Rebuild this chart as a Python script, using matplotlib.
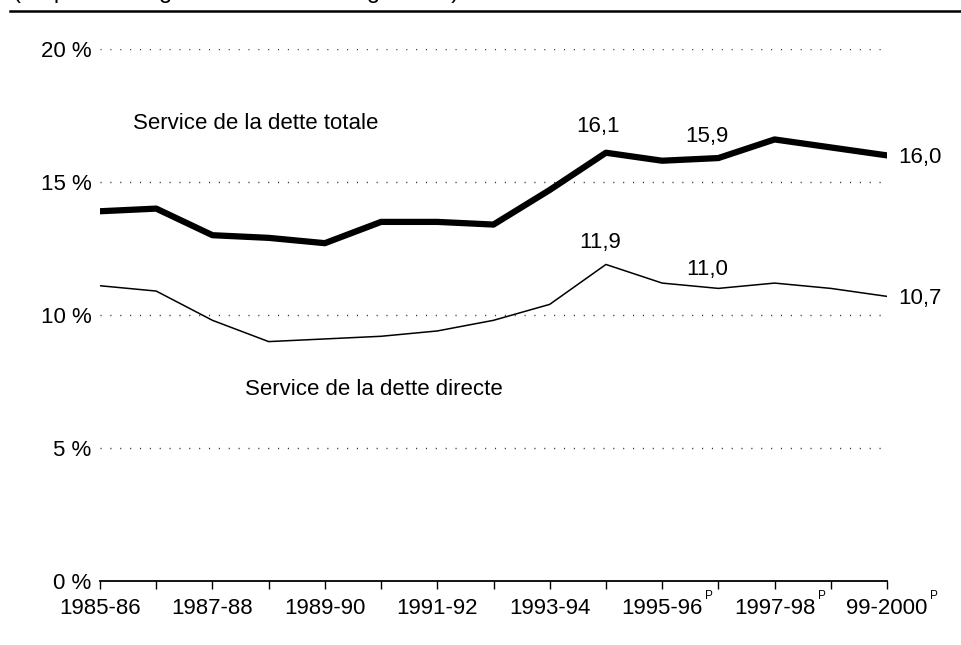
"""Service de la dette : totale et directe, 1985-86 a 1999-2000."""
import matplotlib
matplotlib.use("Agg")
import matplotlib.pyplot as plt
from matplotlib.lines import Line2D

plt.rcParams['font.family'] = ['Liberation Sans', 'DejaVu Sans']

years = ['1985-86', '1986-87', '1987-88', '1988-89', '1989-90', '1990-91',
         '1991-92', '1992-93', '1993-94', '1994-95', '1995-96', '1996-97',
         '1997-98', '1998-99', '99-2000']
prelim = [False] * 10 + [True] * 5
total = [13.9, 14.0, 13.0, 12.9, 12.7, 13.5, 13.5, 13.4, 14.7, 16.1,
         15.8, 15.9, 16.6, 16.3, 16.0]
direct = [11.1, 10.9, 9.8, 9.0, 9.1, 9.2, 9.4, 9.8, 10.4, 11.9,
          11.2, 11.0, 11.2, 11.0, 10.7]
y_ticks = [0, 5, 10, 15, 20]

# labelled points: (index, text, offset in points)
total_labels = [(9, '16,1', (-6, 15)), (11, '15,9', (-8, 11.5)), (14, '16,0', (8, 0))]
direct_labels = [(9, '11,9', (-4, 12)), (11, '11,0', (-8, 10)), (14, '10,7', (8, 0))]

FS = 16

fig = plt.figure(figsize=(9.61, 6.45), dpi=100)
ax = fig.add_axes([100 / 961, 64 / 645, 787 / 961, 532 / 645])

x = list(range(len(years)))
ax.plot(x, total, color='black', lw=4.5, solid_joinstyle='round', zorder=3)
ax.plot(x, direct, color='black', lw=1.1, zorder=3)

ax.set_xlim(0, len(years) - 1)
ax.set_ylim(0, 20)
for v in y_ticks[1:]:
    ax.axhline(v, color='#333333', lw=1, ls=(0, (0.8, 6.3)), zorder=1)

for s in ['left', 'right', 'top']:
    ax.spines[s].set_visible(False)
ax.spines['bottom'].set_linewidth(1.3)

ax.set_yticks(y_ticks)
ax.set_yticklabels([f'{v} %' for v in y_ticks], fontsize=FS)
ax.tick_params(axis='y', length=0, pad=6)

ax.set_xticks(x)
ax.set_xticklabels([y if i % 2 == 0 else '' for i, y in enumerate(years)], fontsize=FS)
ax.tick_params(axis='x', direction='out', length=6, width=1, pad=6)

for i, y in enumerate(years):
    if prelim[i] and i % 2 == 0:
        ax.annotate('P', xy=(i, 0), xycoords=('data', 'axes fraction'),
                    xytext=(31, -10.5), textcoords='offset points',
                    fontsize=8.5, ha='left', va='center')


def label(series, items):
    for i, t, off in items:
        if off[1] > 0:
            ha, va = 'center', 'baseline'
        else:
            ha, va = 'left', 'center_baseline'
        ax.annotate(t, xy=(i, series[i]), xytext=off, textcoords='offset points',
                    fontsize=FS, ha=ha, va=va)


label(total, total_labels)
label(direct, direct_labels)

ax.text(0.59, 17.0, 'Service de la dette totale', fontsize=FS, va='baseline')
ax.text(2.58, 7.0, 'Service de la dette directe', fontsize=FS, va='baseline')

# header, cropped at the top edge, with its rule
fig.text(13 / 961, 1 + 2 / 645, '(en pourcentage des revenus budgétaires)',
         fontsize=17, va='baseline', ha='left')
fig.add_artist(Line2D([10 / 961, 1], [1 - 11 / 645, 1 - 11 / 645],
                      color='black', lw=1.8, transform=fig.transFigure))

fig.savefig('out.png', dpi=100)
